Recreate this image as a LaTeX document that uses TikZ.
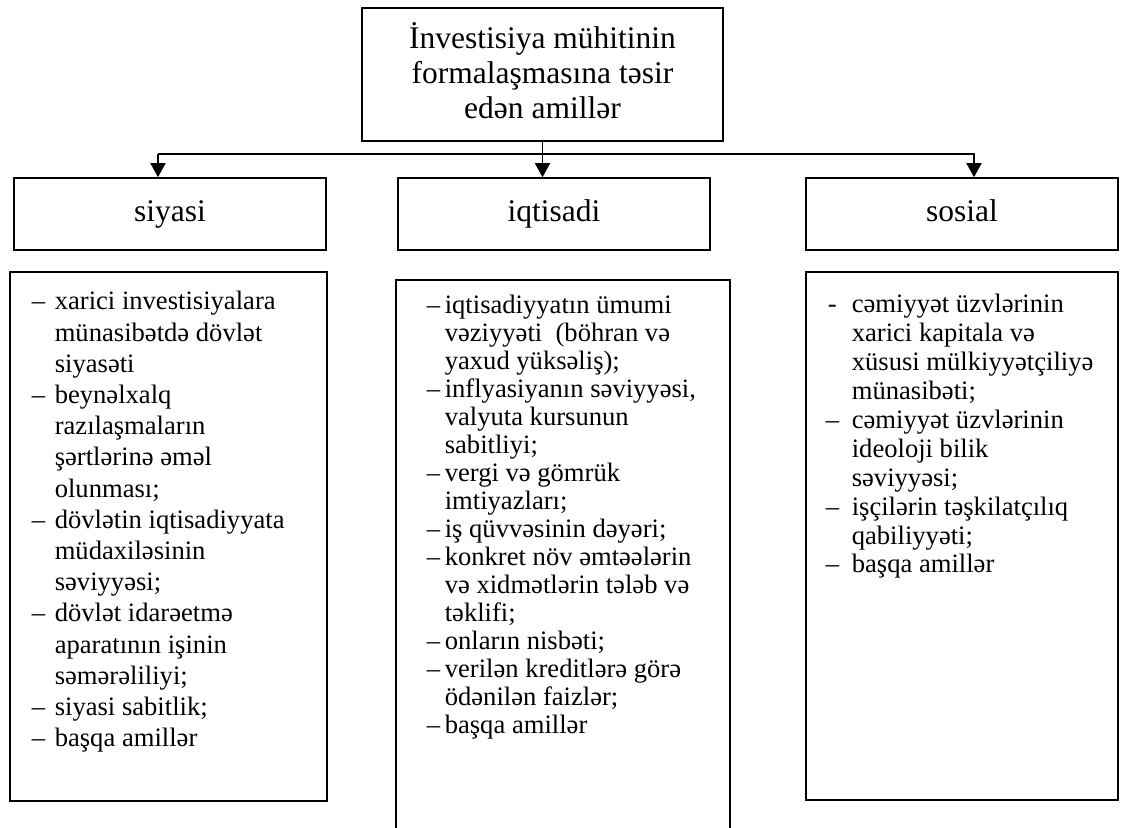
\documentclass[tikz,border=0pt]{standalone}
\usepackage{fontspec}
\setmainfont{Liberation Serif}
\usetikzlibrary{arrows.meta}
\newcommand{\myDash}[1]{\makebox[#1][l]{–}}
\newcommand{\myGap}[1]{\makebox[#1][l]{}}
\begin{document}
\begin{tikzpicture}[x=1pt,y=-1pt,line width=1.6pt,
  box/.style={draw,inner sep=0pt},
  headbox/.style={box,minimum width=312pt,minimum height=72pt,
    font=\fontsize{31.5}{35}\selectfont,text height=22pt,text depth=7pt},
  listtxt/.style={anchor=north west,inner sep=0pt,align=left},
  arr/.style={-{Triangle[length=14pt,width=15pt]}}]
\useasboundingbox (0,0) rectangle (1126,827);

% top box
\node[box,minimum width=361pt,minimum height=133pt] (top) at (542.5,74.5) {};
\node[anchor=north,inner sep=0pt,align=center,font=\fontsize{31.5}{35}\selectfont] (toptext) at (542.5,20)
  {\rule{0pt}{28pt}İnvestisiya mühitinin\\formalaşmasına təsir\\edən amillər};

% heading boxes
\node[headbox] (si) at (170,214) {siyasi};
\node[headbox] (iq) at (554,214) {iqtisadi};
\node[headbox] (so) at (962,214) {sosial};

% connectors
\coordinate (hl) at (158,154);
\coordinate (hr) at (974,154);
\draw[arr] (top.south) -- (top.south |- iq.north);
\draw[arr] (hl) -- (hl |- si.north);
\draw[arr] (hl) -- (hr) -- (hr |- so.north);

% lower boxes
\node[box,minimum width=317pt,minimum height=529pt] (lb) at (168.5,536.5) {};
\node[inner sep=0pt,minimum width=332pt,minimum height=548pt] (mb) at (563,555) {};
\draw (mb.south west) -- (mb.north west) -- (mb.north east) -- (mb.south east);
\node[box,minimum width=312pt,minimum height=528pt] (rb) at (962,536) {};

% lists
\node[listtxt,font=\fontsize{26.6}{31.2}\selectfont] (lt) at (31,288) {%
\rule{0pt}{21pt}\myDash{23pt}xarici investisiyalara\\
\myGap{23pt}münasibətdə dövlət\\
\myGap{23pt}siyasəti\\
\myDash{23pt}beynəlxalq\\
\myGap{23pt}razılaşmaların\\
\myGap{23pt}şərtlərinə əməl\\
\myGap{23pt}olunması;\\
\myDash{23pt}dövlətin iqtisadiyyata\\
\myGap{23pt}müdaxiləsinin\\
\myGap{23pt}səviyyəsi;\\
\myDash{23pt}dövlət idarəetmə\\
\myGap{23pt}aparatının işinin\\
\myGap{23pt}səmərəliliyi;\\
\myDash{23pt}siyasi sabitlik;\\
\myDash{23pt}başqa amillər};

\node[listtxt,font=\fontsize{26.6}{28}\selectfont] (mt) at (426,292) {%
\rule{0pt}{21pt}\myDash{18pt}iqtisadiyyatın ümumi\\
\myGap{18pt}vəziyyəti\ \ (böhran və\\
\myGap{18pt}yaxud yüksəliş);\\
\myDash{18pt}inflyasiyanın səviyyəsi,\\
\myGap{18pt}valyuta kursunun\\
\myGap{18pt}sabitliyi;\\
\myDash{18pt}vergi və gömrük\\
\myGap{18pt}imtiyazları;\\
\myDash{18pt}iş qüvvəsinin dəyəri;\\
\myDash{18pt}konkret növ əmtəələrin\\
\myGap{18pt}və xidmətlərin tələb və\\
\myGap{18pt}təklifi;\\
\myDash{18pt}onların nisbəti;\\
\myDash{18pt}verilən kreditlərə görə\\
\myGap{18pt}ödənilən faizlər;\\
\myDash{18pt}başqa amillər};

\node[listtxt,font=\fontsize{26.6}{28.9}\selectfont] (rt) at (825,291) {%
\rule{0pt}{21pt}\makebox[26pt][l]{\hspace{2pt}-}cəmiyyət üzvlərinin\\
\myGap{26pt}xarici kapitala və\\
\myGap{26pt}xüsusi mülkiyyətçiliyə\\
\myGap{26pt}münasibəti;\\
\myDash{26pt}cəmiyyət üzvlərinin\\
\myGap{26pt}ideoloji bilik\\
\myGap{26pt}səviyyəsi;\\
\myDash{26pt}işçilərin təşkilatçılıq\\
\myGap{26pt}qabiliyyəti;\\
\myDash{26pt}başqa amillər};
\end{tikzpicture}
\end{document}
